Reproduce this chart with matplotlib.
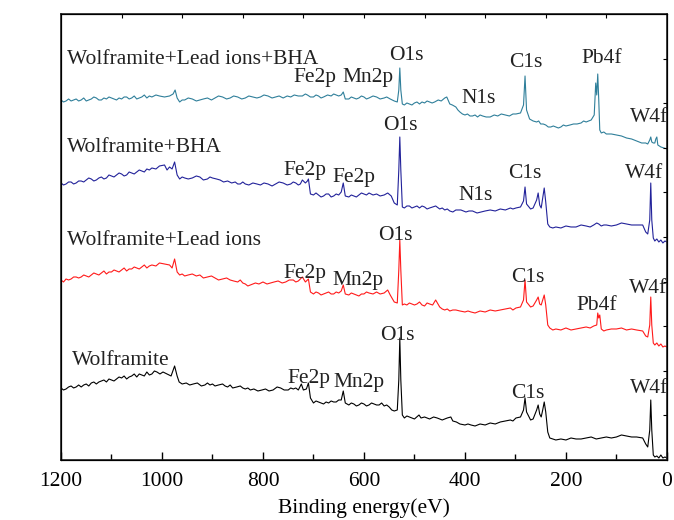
import numpy as np
import matplotlib
matplotlib.use("Agg")
import matplotlib.pyplot as plt

# XPS survey spectra, stacked (binding energy eV, intensity a.u.)
wolframite = [
    (1200, 72), (1195, 70), (1190, 71), (1185, 73), (1180, 74), (1175, 72), (1170, 73), (1165, 75),
    (1160, 73), (1155, 75), (1150, 76), (1145, 74), (1140, 77), (1135, 78), (1130, 76), (1125, 78),
    (1120, 79), (1115, 80), (1110, 78), (1105, 81), (1100, 80), (1095, 79), (1090, 81), (1085, 83),
    (1080, 82), (1075, 84), (1070, 81), (1065, 83), (1060, 84), (1055, 86), (1050, 83), (1045, 86),
    (1040, 85), (1035, 84), (1030, 88), (1025, 85), (1020, 86), (1015, 89), (1010, 88), (1004, 86),
    (998, 88), (990, 86), (982, 84), (975, 94), (970, 84), (966, 78), (960, 76), (952, 77),
    (945, 75), (938, 76), (930, 77), (922, 74), (915, 75), (910, 77), (905, 75), (900, 76),
    (895, 74), (888, 75), (880, 76), (875, 74), (870, 73), (865, 75), (860, 72), (852, 73),
    (845, 74), (840, 72), (835, 71), (830, 72), (825, 70), (818, 71), (810, 69), (802, 70),
    (795, 71), (788, 69), (780, 70), (772, 73), (765, 72), (758, 70), (750, 70), (745, 72),
    (740, 71), (735, 72), (730, 70), (724, 76), (720, 70), (714, 71), (710, 77), (706, 62),
    (700, 57), (695, 59), (690, 58), (685, 57), (680, 56), (675, 58), (670, 57), (665, 59),
    (660, 58), (655, 58), (650, 60), (645, 60), (641, 69), (637, 57), (630, 55), (625, 57),
    (620, 56), (615, 54), (610, 55), (605, 57), (600, 56), (595, 54), (590, 55), (585, 57),
    (580, 56), (575, 55), (570, 55), (565, 57), (560, 54), (555, 55), (550, 53), (545, 50),
    (540, 49), (534, 50), (531, 80), (529, 122), (527, 80), (524, 45), (520, 42), (515, 44),
    (510, 43), (505, 42), (500, 41), (491, 45), (487, 42), (480, 43), (470, 41), (462, 43),
    (455, 42), (445, 40), (435, 42), (428, 43), (424, 39), (417, 38), (410, 36), (400, 35),
    (394, 36), (388, 35), (380, 34), (370, 36), (360, 35), (350, 37), (340, 36), (330, 38),
    (320, 39), (310, 40), (305, 39), (299, 42), (290, 43), (284, 50), (281, 62), (278, 48),
    (270, 40), (265, 41), (258, 50), (255, 55), (252, 46), (249, 43), (246, 50), (243, 58),
    (240, 48), (236, 28), (232, 22), (226, 21), (220, 20), (210, 21), (200, 20), (190, 22),
    (180, 21), (170, 21), (160, 22), (150, 23), (140, 21), (130, 22), (120, 23), (110, 22),
    (100, 23), (90, 25), (80, 24), (70, 23), (60, 23), (48, 22), (42, 16), (38, 13),
    (34, 30), (32, 60), (30, 30), (27, 5), (24, 3), (20, 4), (16, 2), (12, 5),
    (8, 2), (4, 3), (0, 2),
]

wolframite_pb = [
    (1200, 180), (1195, 178), (1190, 181), (1185, 180), (1180, 181), (1175, 183), (1170, 183),
    (1165, 182), (1160, 183), (1155, 185), (1150, 184), (1145, 183), (1140, 185), (1135, 187),
    (1130, 186), (1125, 185), (1120, 187), (1115, 189), (1110, 186), (1105, 188), (1100, 188),
    (1095, 190), (1090, 189), (1085, 188), (1080, 190), (1075, 192), (1070, 189), (1065, 191),
    (1060, 191), (1055, 193), (1050, 192), (1045, 191), (1040, 193), (1035, 195), (1030, 192),
    (1025, 194), (1020, 195), (1012, 194), (1005, 197), (995, 196), (985, 195), (980, 192),
    (975, 201), (970, 188), (965, 185), (960, 186), (955, 184), (948, 185), (940, 186),
    (932, 184), (925, 185), (918, 182), (910, 183), (902, 184), (895, 182), (888, 180),
    (880, 181), (872, 182), (865, 180), (858, 179), (850, 178), (845, 180), (840, 177),
    (835, 176), (830, 174), (825, 175), (820, 176), (815, 177), (808, 176), (800, 178),
    (792, 176), (785, 177), (778, 178), (770, 179), (762, 177), (755, 178), (748, 180),
    (740, 180), (735, 178), (730, 179), (722, 183), (716, 178), (710, 181), (706, 168),
    (700, 166), (695, 168), (690, 167), (685, 165), (680, 166), (675, 167), (670, 168),
    (665, 166), (660, 166), (655, 168), (650, 167), (645, 169), (641, 175), (637, 166),
    (630, 165), (625, 167), (620, 166), (615, 165), (610, 164), (605, 166), (600, 166),
    (595, 168), (590, 167), (582, 166), (575, 168), (568, 166), (560, 167), (553, 170),
    (548, 165), (540, 158), (534, 157), (531, 190), (529, 220), (527, 190), (524, 155),
    (520, 156), (515, 155), (510, 157), (505, 156), (500, 155), (495, 156), (490, 158),
    (485, 155), (480, 154), (475, 157), (470, 156), (464, 155), (458, 160), (450, 153),
    (445, 151), (440, 150), (435, 151), (430, 149), (424, 150), (418, 150), (410, 149),
    (400, 148), (394, 149), (388, 148), (380, 147), (370, 149), (360, 148), (350, 150),
    (340, 149), (330, 150), (320, 151), (310, 152), (305, 150), (299, 152), (290, 153),
    (284, 160), (281, 180), (278, 158), (270, 153), (265, 154), (258, 160), (255, 163),
    (252, 156), (249, 155), (246, 160), (243, 165), (240, 155), (236, 135), (232, 132),
    (226, 130), (220, 131), (210, 130), (200, 132), (190, 130), (180, 131), (170, 132),
    (160, 133), (152, 132), (145, 134), (139, 135), (137, 147), (135, 142), (133, 145),
    (130, 131), (125, 129), (120, 130), (110, 131), (100, 131), (90, 132), (80, 130),
    (70, 131), (60, 130), (48, 129), (42, 124), (38, 123), (34, 135), (32, 163), (30, 135),
    (27, 117), (24, 115), (20, 117), (16, 114), (12, 116), (8, 113), (4, 114), (0, 113),
]

wolframite_bha = [
    (1200, 277), (1195, 275), (1190, 276), (1185, 278), (1180, 278), (1175, 276), (1170, 277),
    (1165, 279), (1160, 279), (1155, 278), (1150, 280), (1145, 282), (1140, 281), (1135, 279),
    (1130, 280), (1125, 282), (1120, 283), (1115, 281), (1110, 282), (1105, 285), (1100, 284),
    (1095, 283), (1090, 285), (1085, 287), (1080, 286), (1075, 284), (1070, 285), (1065, 288),
    (1060, 287), (1055, 286), (1050, 288), (1045, 290), (1040, 289), (1035, 288), (1030, 291),
    (1025, 290), (1020, 292), (1012, 291), (1005, 294), (995, 295), (990, 290), (985, 293),
    (980, 291), (975, 298), (970, 285), (965, 281), (960, 283), (955, 282), (948, 281),
    (940, 282), (932, 284), (925, 283), (918, 280), (910, 281), (905, 283), (900, 282),
    (892, 281), (885, 280), (878, 278), (870, 279), (862, 277), (855, 278), (850, 276),
    (845, 276), (840, 278), (835, 276), (828, 275), (820, 277), (812, 276), (805, 275),
    (798, 277), (790, 276), (782, 274), (775, 276), (768, 278), (760, 277), (752, 275),
    (745, 276), (740, 278), (735, 277), (730, 275), (726, 276), (722, 280), (716, 277),
    (712, 279), (710, 281), (706, 266), (700, 265), (695, 267), (690, 265), (685, 263),
    (680, 264), (675, 266), (670, 266), (665, 263), (660, 264), (655, 266), (650, 265),
    (645, 268), (641, 277), (637, 264), (630, 263), (625, 265), (620, 264), (615, 263),
    (610, 265), (605, 267), (600, 266), (595, 265), (590, 267), (582, 265), (575, 266),
    (568, 264), (560, 265), (553, 267), (546, 264), (540, 257), (534, 255), (531, 290),
    (529, 323), (527, 290), (524, 253), (520, 252), (515, 254), (510, 254), (505, 252),
    (500, 253), (495, 254), (490, 252), (485, 254), (480, 253), (475, 251), (470, 252),
    (464, 253), (458, 254), (450, 251), (445, 252), (440, 250), (435, 251), (430, 249),
    (424, 248), (418, 250), (408, 250), (398, 248), (392, 249), (385, 249), (376, 247),
    (368, 248), (360, 249), (350, 250), (340, 249), (330, 251), (320, 250), (310, 252),
    (305, 251), (299, 252), (290, 253), (284, 259), (281, 273), (278, 256), (270, 251),
    (265, 252), (258, 260), (255, 267), (252, 255), (249, 252), (246, 262), (243, 272),
    (240, 258), (236, 236), (232, 233), (226, 232), (220, 233), (210, 232), (200, 234),
    (190, 233), (180, 233), (170, 235), (160, 234), (152, 233), (145, 235), (139, 237),
    (135, 236), (130, 234), (125, 235), (120, 235), (110, 234), (100, 235), (90, 237),
    (80, 236), (70, 235), (60, 235), (48, 235), (42, 228), (38, 226), (34, 240), (32, 277),
    (30, 240), (27, 222), (24, 219), (20, 221), (16, 218), (12, 220), (8, 217), (4, 219),
    (0, 218),
]

wolframite_pb_bha = [
    (1200, 360), (1195, 358), (1190, 359), (1185, 361), (1180, 359), (1175, 360), (1170, 361),
    (1165, 359), (1160, 360), (1155, 362), (1150, 359), (1145, 360), (1140, 361), (1135, 363),
    (1130, 362), (1125, 360), (1120, 360), (1115, 362), (1110, 361), (1105, 363), (1100, 362),
    (1095, 361), (1090, 360), (1085, 362), (1080, 361), (1075, 363), (1070, 363), (1065, 361),
    (1060, 362), (1055, 364), (1050, 361), (1045, 362), (1040, 363), (1035, 365), (1030, 362),
    (1025, 364), (1020, 363), (1012, 365), (1005, 364), (995, 363), (985, 364), (978, 366),
    (974, 370), (970, 362), (965, 358), (960, 360), (955, 360), (948, 362), (940, 361),
    (932, 359), (925, 360), (918, 361), (910, 362), (902, 360), (895, 362), (888, 364),
    (880, 363), (872, 361), (865, 362), (858, 364), (850, 363), (842, 361), (835, 362),
    (828, 364), (820, 363), (812, 362), (805, 363), (798, 365), (790, 364), (782, 362),
    (775, 363), (768, 364), (760, 362), (752, 364), (745, 363), (738, 365), (730, 364),
    (722, 364), (716, 366), (712, 365), (706, 363), (700, 363), (695, 365), (690, 364),
    (685, 362), (680, 363), (672, 365), (665, 364), (660, 366), (655, 365), (650, 364),
    (645, 365), (641, 368), (637, 361), (630, 361), (625, 363), (620, 362), (615, 361),
    (610, 362), (605, 364), (600, 363), (595, 361), (590, 362), (582, 364), (575, 363),
    (568, 361), (560, 362), (555, 363), (548, 361), (540, 359), (534, 358), (531, 370),
    (529, 392), (527, 370), (524, 356), (520, 355), (515, 357), (510, 356), (505, 355),
    (500, 357), (495, 358), (490, 356), (485, 358), (480, 357), (475, 359), (470, 358),
    (465, 357), (460, 358), (453, 360), (447, 359), (440, 362), (436, 363), (430, 356),
    (425, 355), (418, 353), (414, 350), (410, 348), (405, 346), (400, 345), (395, 346),
    (390, 344), (385, 344), (380, 345), (375, 343), (370, 345), (365, 344), (358, 343),
    (350, 343), (342, 345), (335, 344), (328, 346), (320, 345), (312, 344), (305, 346),
    (299, 346), (290, 347), (284, 355), (281, 384), (278, 350), (272, 341), (265, 339),
    (258, 338), (254, 339), (250, 336), (245, 336), (240, 335), (235, 333), (230, 333),
    (225, 334), (220, 333), (215, 332), (210, 333), (205, 335), (200, 334), (192, 335),
    (185, 336), (178, 336), (170, 337), (165, 339), (160, 338), (155, 339), (150, 340),
    (144, 345), (141, 377), (139, 365), (137, 386), (135, 360), (133, 330), (130, 327),
    (125, 328), (120, 326), (110, 326), (100, 325), (90, 324), (80, 322), (70, 321),
    (60, 319), (50, 317), (42, 317), (38, 316), (34, 320), (32, 323), (30, 318), (27, 317),
    (24, 317), (22, 321), (20, 323), (18, 315), (12, 313), (6, 312), (0, 311),
]

series = [wolframite, wolframite_pb, wolframite_bha, wolframite_pb_bha]
colors = ["black", "#ff1a1a", "#22229a", "#2f7f9a"]

plt.rcParams["font.family"] = ["Liberation Serif", "DejaVu Serif"]
fs = 15.5

fig = plt.figure(figsize=(6.74, 5.2), dpi=100)
ax = fig.add_axes([0.0905, 0.1154, 0.899, 0.8577])

for data, c in zip(series, colors):
    e, inten = zip(*data)
    ax.plot(e, inten, color=c, lw=0.8)

# peak / sample labels: (text, energy, height)
labels = [
    ("Wolframite+Lead ions+BHA", 1189, 396), ("Fe2p", 740, 378), ("Mn2p", 642, 378),
    ("O1s", 551, 400), ("N1s", 406, 357), ("C1s", 312, 393), ("Pb4f", 169, 397), ("W4f", 74, 338),
    ("Wolframite+BHA", 1189, 308), ("Fe2p", 760, 285), ("Fe2p", 662, 278), ("O1s", 563, 330),
    ("N1s", 412, 260), ("C1s", 314, 282), ("W4f", 84, 282),
    ("Wolframite+Lead ions", 1189, 215), ("Fe2p", 760, 182), ("Mn2p", 662, 175),
    ("O1s", 571, 220), ("C1s", 308, 178), ("Pb4f", 179, 150), ("W4f", 76, 167),
    ("Wolframite", 1179, 95), ("Fe2p", 752, 77), ("Mn2p", 660, 73), ("O1s", 567, 120),
    ("C1s", 308, 62), ("W4f", 74, 67),
]
for t, x, y in labels:
    ax.text(x, y, t, fontsize=fs, ha="left", va="baseline", color="#222222")

ax.set_xlim(1200, 0)
ax.set_ylim(0, 446)
ax.set_xticks(np.arange(0, 1201, 200))
ax.set_xticks(np.arange(100, 1200, 200), minor=True)
ax.set_yticks([])
ax.tick_params(axis="x", which="major", direction="in", length=6, width=1, labelsize=fs, pad=9)
ax.tick_params(axis="x", which="minor", direction="in", length=4, width=1)
ax.set_xlabel("Binding energy(eV)", fontsize=fs, labelpad=5)
for s in ax.spines.values():
    s.set_linewidth(1.2)
    s.set_color("#222222")

# top and right ticks (10 divisions)
axt = ax.twiny()
axt.set_xlim(0, 10)
axt.set_xticks(np.arange(1, 10))
axt.tick_params(axis="x", direction="in", length=3, labeltop=False)
axr = ax.twinx()
axr.set_ylim(0, 10)
axr.set_yticks(np.arange(1, 10))
axr.tick_params(axis="y", direction="in", length=3, labelright=False)

fig.savefig("out.png", dpi=100)
